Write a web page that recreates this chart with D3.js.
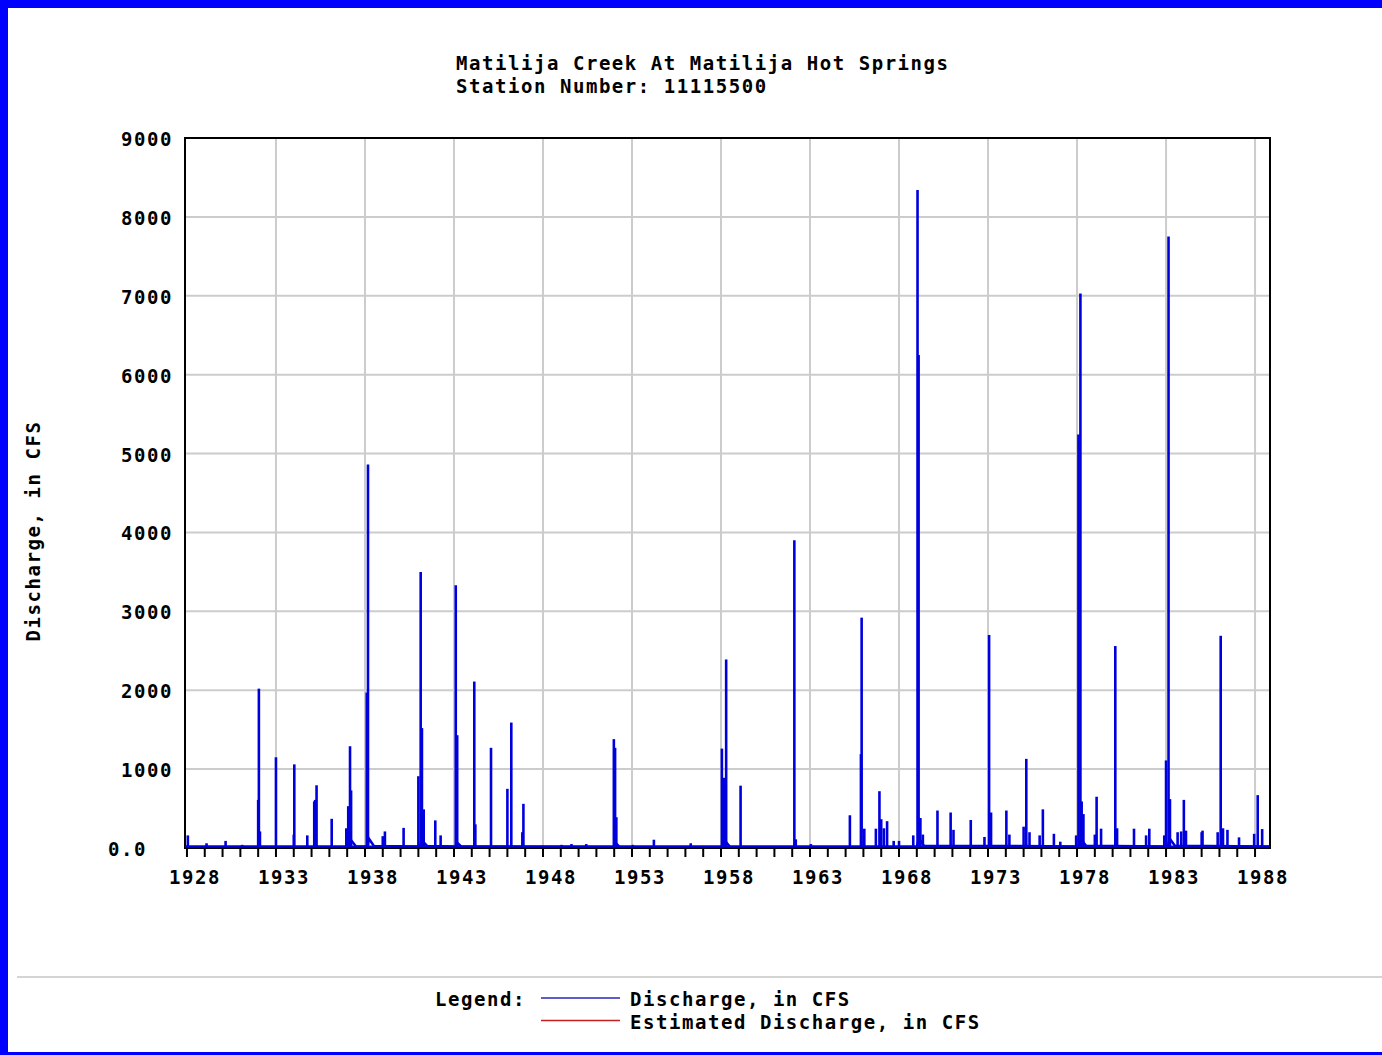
<!DOCTYPE html>
<html>
<head>
<meta charset="utf-8">
<script src="https://cdn.jsdelivr.net/npm/d3@7"></script>
<style>
  html, body { margin: 0; padding: 0; background: #fff; }
  svg { display: block; }
  text { font-family: "DejaVu Sans Mono", "Liberation Mono", monospace; font-weight: bold; font-size: 19px; letter-spacing: 1.55px; fill: #000; }
</style>
</head>
<body>
<svg id="chart" width="1382" height="1055"></svg>
<script>
const TITLE_LINES = ["Matilija Creek At Matilija Hot Springs", "Station Number: 11115500"];
const Y_LABEL = "Discharge, in CFS";
const Y_TICKS = [0, 1000, 2000, 3000, 4000, 5000, 6000, 7000, 8000, 9000];
const X_LABEL_YEARS = [1928, 1933, 1938, 1943, 1948, 1953, 1958, 1963, 1968, 1973, 1978, 1983, 1988];
const X_MINOR_YEARS = d3.range(1928, 1989);
const LEGEND_ITEMS = [
  { label: "Discharge, in CFS", color: "#2626b8" },
  { label: "Estimated Discharge, in CFS", color: "#c81e1e" }
];

// peak flows [decimal year, cfs]
const peaks = [
  [1928.05, 160], [1929.1, 60], [1930.17, 90], [1931.1, 40],
  [1932.0, 610], [1932.04, 2020], [1932.1, 210], [1933.0, 1150],
  [1934.0, 170], [1934.03, 1060], [1934.76, 160], [1935.15, 590], [1935.2, 610], [1935.28, 795],
  [1936.13, 370], [1936.95, 250], [1937.06, 530], [1937.16, 1290], [1937.22, 730],
  [1938.1, 1970], [1938.17, 4860], [1939.0, 150], [1939.12, 210], [1940.17, 255],
  [1941.0, 910], [1941.13, 3500], [1941.2, 1520], [1941.3, 490], [1941.95, 350], [1942.25, 160],
  [1943.1, 3330], [1943.18, 1430], [1944.14, 2110], [1944.2, 300], [1945.08, 1270],
  [1946.0, 750], [1946.22, 1590], [1946.84, 200], [1946.9, 560],
  [1949.04, 40], [1949.6, 50], [1950.43, 50],
  [1951.98, 1380], [1952.05, 1270], [1952.12, 390], [1953.05, 40], [1954.23, 105], [1956.3, 60],
  [1958.05, 1260], [1958.15, 890], [1958.29, 2390], [1959.1, 790],
  [1962.12, 3900], [1962.2, 110], [1963.05, 50],
  [1965.24, 415], [1965.86, 1190], [1965.9, 2920], [1966.05, 245], [1966.7, 245], [1966.9, 720],
  [1967.0, 365], [1967.15, 250], [1967.33, 340], [1967.7, 90], [1968.0, 90],
  [1968.8, 160], [1969.04, 8340], [1969.1, 6250], [1969.2, 380], [1969.34, 170],
  [1970.16, 475], [1970.9, 450], [1971.06, 230], [1972.03, 355], [1972.8, 140],
  [1973.06, 2700], [1973.17, 450], [1974.03, 475], [1974.2, 170],
  [1975.0, 270], [1975.15, 1130], [1975.33, 200], [1975.9, 160], [1976.08, 490], [1976.7, 180], [1977.06, 80],
  [1977.95, 160], [1978.08, 5240], [1978.19, 7030], [1978.26, 590], [1978.36, 430],
  [1979.0, 170], [1979.1, 650], [1979.35, 245], [1980.15, 2560], [1980.25, 250],
  [1981.2, 245], [1981.88, 160], [1982.06, 245], [1982.9, 160],
  [1983.0, 1110], [1983.14, 7750], [1983.22, 620], [1983.65, 200], [1983.85, 210], [1984.0, 610], [1984.12, 220],
  [1985.0, 200], [1985.05, 220], [1985.9, 200], [1986.07, 2690], [1986.2, 250], [1986.45, 230],
  [1987.1, 135], [1987.95, 180], [1988.15, 670], [1988.4, 240]
];

// low flow between storms, with recession humps after the big floods
const baseflow = [
  [1927.89, 15], [1937.1, 15], [1937.25, 90], [1937.5, 20], [1938.15, 20], [1938.22, 120], [1938.5, 25],
  [1941.1, 20], [1941.18, 100], [1941.5, 25], [1943.1, 20], [1943.17, 70], [1943.4, 20],
  [1952.02, 15], [1952.1, 60], [1952.3, 15], [1958.2, 15], [1958.3, 70], [1958.5, 15],
  [1969.0, 20], [1969.12, 120], [1969.4, 30], [1978.1, 20], [1978.22, 110], [1978.5, 30],
  [1983.1, 20], [1983.2, 120], [1983.5, 30], [1988.84, 20]
];

const svg = d3.select("#chart");
const W = 1382, H = 1055;
const plot = { left: 185, right: 1270, top: 138, bottom: 848 };

const x = d3.scaleLinear().domain([1927.89, 1988.84]).range([plot.left, plot.right]);
const y = d3.scaleLinear().domain([0, 9000]).range([plot.bottom, plot.top]);

svg.append("rect").attr("width", W).attr("height", H).attr("fill", "#fff");

// grid
const grid = svg.append("g").attr("stroke", "#cccccc").attr("stroke-width", 2);
grid.selectAll(".hg").data(Y_TICKS.filter(d => d > 0 && d < 9000)).join("line")
  .attr("x1", plot.left).attr("x2", plot.right)
  .attr("y1", d => y(d)).attr("y2", d => y(d));
grid.selectAll(".vg").data(X_LABEL_YEARS.filter(d => d > 1928)).join("line")
  .attr("x1", d => x(d)).attr("x2", d => x(d))
  .attr("y1", plot.top).attr("y2", plot.bottom);

// data
const blue = "#0000dd";
svg.append("g").attr("stroke", blue).attr("stroke-width", 2.6)
  .selectAll("line").data(peaks).join("line")
  .attr("x1", d => x(d[0])).attr("x2", d => x(d[0]))
  .attr("y1", y(0)).attr("y2", d => y(d[1]));

svg.append("path").datum(baseflow)
  .attr("fill", "none").attr("stroke", blue).attr("stroke-width", 2.5)
  .attr("d", d3.line().x(d => x(d[0])).y(d => y(d[1])));

// frame
svg.append("rect")
  .attr("x", plot.left).attr("y", plot.top)
  .attr("width", plot.right - plot.left).attr("height", plot.bottom - plot.top)
  .attr("fill", "none").attr("stroke", "#000").attr("stroke-width", 2);
svg.append("line").attr("x1", plot.left).attr("x2", plot.right)
  .attr("y1", plot.bottom - 1.5).attr("y2", plot.bottom - 1.5)
  .attr("stroke", blue).attr("stroke-width", 2);

// x ticks + labels
svg.append("g").attr("stroke", "#000").attr("stroke-width", 2)
  .selectAll("line").data(X_MINOR_YEARS).join("line")
  .attr("x1", d => x(d)).attr("x2", d => x(d))
  .attr("y1", plot.bottom).attr("y2", plot.bottom + 9);
svg.append("g").selectAll("text").data(X_LABEL_YEARS).join("text")
  .attr("x", d => x(d) + 8).attr("y", 884)
  .attr("text-anchor", "middle")
  .text(d => d);

// y labels
svg.append("g").selectAll("text").data(Y_TICKS).join("text")
  .attr("x", d => d === 0 ? 147 : 173).attr("y", d => y(d) + 8)
  .attr("text-anchor", "end")
  .text(d => d === 0 ? "0.0" : d);

svg.append("text")
  .attr("transform", "translate(40,531) rotate(-90)")
  .attr("text-anchor", "middle")
  .text(Y_LABEL);

// title
svg.append("g").selectAll("text").data(TITLE_LINES).join("text")
  .attr("x", 456).attr("y", (d, i) => 70 + i * 23)
  .text(d => d);

// separator + legend
svg.append("line").attr("x1", 17).attr("x2", W).attr("y1", 977).attr("y2", 977)
  .attr("stroke", "#d4d4d4").attr("stroke-width", 2);
svg.append("text").attr("x", 435).attr("y", 1006).text("Legend:");
const leg = svg.append("g").selectAll("g").data(LEGEND_ITEMS).join("g")
  .attr("transform", (d, i) => `translate(0,${i * 22.5})`);
leg.append("line").attr("x1", 541).attr("x2", 620).attr("y1", 998).attr("y2", 998)
  .attr("stroke", d => d.color).attr("stroke-width", 1.5);
leg.append("text").attr("x", 630).attr("y", 1006).text(d => d.label);

// blue page border
svg.append("rect").attr("x", 0).attr("y", 0).attr("width", 8).attr("height", H).attr("fill", "#0000ff");
svg.append("rect").attr("x", 0).attr("y", 0).attr("width", W).attr("height", 8).attr("fill", "#0000ff");
svg.append("rect").attr("x", 0).attr("y", H - 3).attr("width", W).attr("height", 3).attr("fill", "#0000ff");
</script>
</body>
</html>
